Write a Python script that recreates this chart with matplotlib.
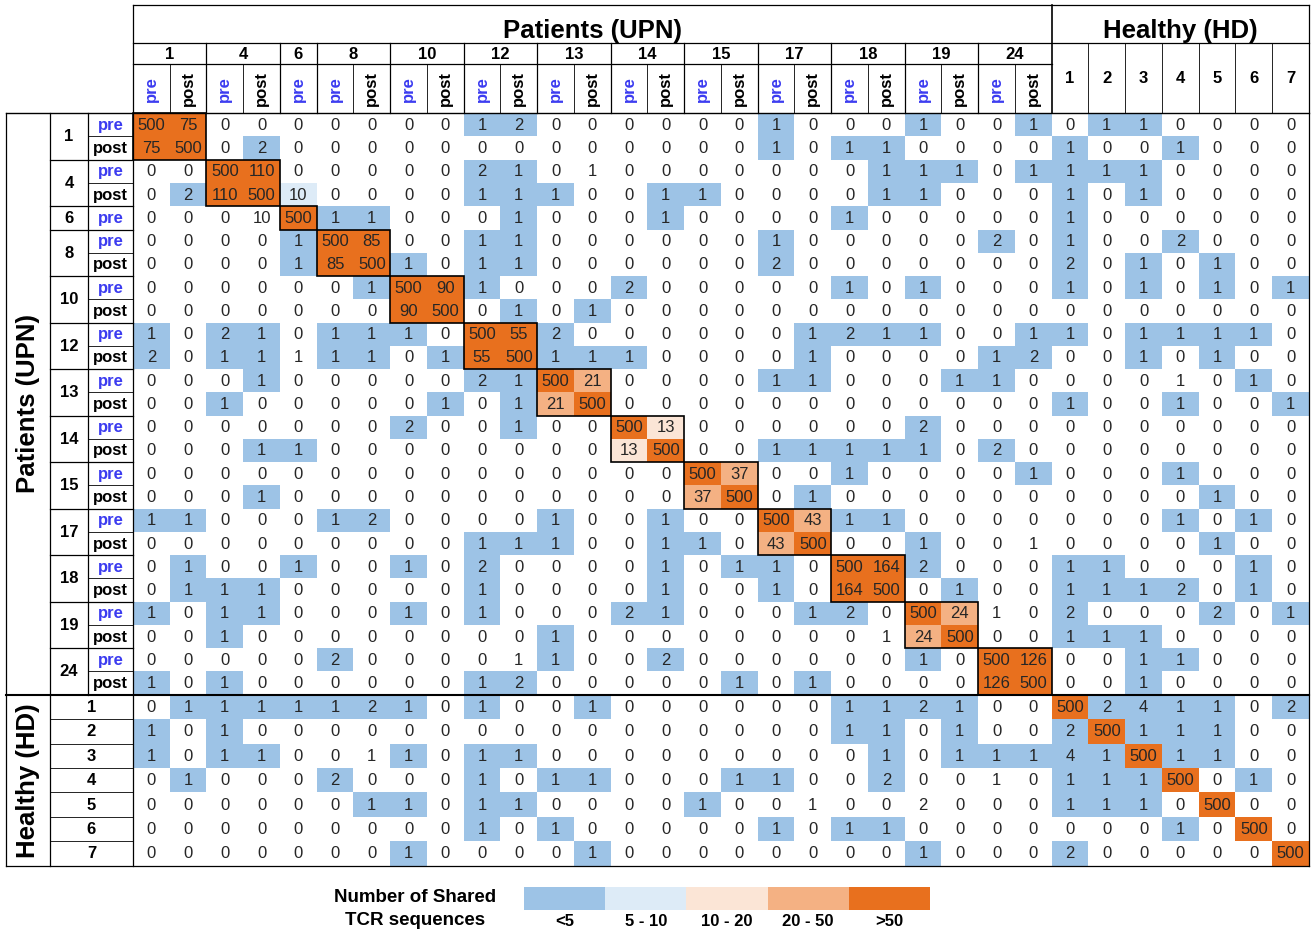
import matplotlib
matplotlib.use("Agg")
import matplotlib.pyplot as plt
from matplotlib.patches import Rectangle

plt.rcParams['font.family'] = ['Liberation Sans', 'DejaVu Sans']

# ---------------- data ----------------
patient_ids = ["1", "4", "6", "8", "10", "12", "13", "14", "15", "17", "18", "19", "24"]
patient_samples = [["pre", "post"], ["pre", "post"], ["pre"], ["pre", "post"], ["pre", "post"],
                   ["pre", "post"], ["pre", "post"], ["pre", "post"], ["pre", "post"],
                   ["pre", "post"], ["pre", "post"], ["pre", "post"], ["pre", "post"]]
healthy_ids = ["1", "2", "3", "4", "5", "6", "7"]

shared = [
    [500, 75, 0, 0, 0, 0, 0, 0, 0, 1, 2, 0, 0, 0, 0, 0, 0, 1, 0, 0, 0, 1, 0, 0, 1, 0, 1, 1, 0, 0, 0, 0],
    [75, 500, 0, 2, 0, 0, 0, 0, 0, 0, 0, 0, 0, 0, 0, 0, 0, 1, 0, 1, 1, 0, 0, 0, 0, 1, 0, 0, 1, 0, 0, 0],
    [0, 0, 500, 110, 0, 0, 0, 0, 0, 2, 1, 0, 1, 0, 0, 0, 0, 0, 0, 0, 1, 1, 1, 0, 1, 1, 1, 1, 0, 0, 0, 0],
    [0, 2, 110, 500, 10, 0, 0, 0, 0, 1, 1, 1, 0, 0, 1, 1, 0, 0, 0, 0, 1, 1, 0, 0, 0, 1, 0, 1, 0, 0, 0, 0],
    [0, 0, 0, 10, 500, 1, 1, 0, 0, 0, 1, 0, 0, 0, 1, 0, 0, 0, 0, 1, 0, 0, 0, 0, 0, 1, 0, 0, 0, 0, 0, 0],
    [0, 0, 0, 0, 1, 500, 85, 0, 0, 1, 1, 0, 0, 0, 0, 0, 0, 1, 0, 0, 0, 0, 0, 2, 0, 1, 0, 0, 2, 0, 0, 0],
    [0, 0, 0, 0, 1, 85, 500, 1, 0, 1, 1, 0, 0, 0, 0, 0, 0, 2, 0, 0, 0, 0, 0, 0, 0, 2, 0, 1, 0, 1, 0, 0],
    [0, 0, 0, 0, 0, 0, 1, 500, 90, 1, 0, 0, 0, 2, 0, 0, 0, 0, 0, 1, 0, 1, 0, 0, 0, 1, 0, 1, 0, 1, 0, 1],
    [0, 0, 0, 0, 0, 0, 0, 90, 500, 0, 1, 0, 1, 0, 0, 0, 0, 0, 0, 0, 0, 0, 0, 0, 0, 0, 0, 0, 0, 0, 0, 0],
    [1, 0, 2, 1, 0, 1, 1, 1, 0, 500, 55, 2, 0, 0, 0, 0, 0, 0, 1, 2, 1, 1, 0, 0, 1, 1, 0, 1, 1, 1, 1, 0],
    [2, 0, 1, 1, 1, 1, 1, 0, 1, 55, 500, 1, 1, 1, 0, 0, 0, 0, 1, 0, 0, 0, 0, 1, 2, 0, 0, 1, 0, 1, 0, 0],
    [0, 0, 0, 1, 0, 0, 0, 0, 0, 2, 1, 500, 21, 0, 0, 0, 0, 1, 1, 0, 0, 0, 1, 1, 0, 0, 0, 0, 1, 0, 1, 0],
    [0, 0, 1, 0, 0, 0, 0, 0, 1, 0, 1, 21, 500, 0, 0, 0, 0, 0, 0, 0, 0, 0, 0, 0, 0, 1, 0, 0, 1, 0, 0, 1],
    [0, 0, 0, 0, 0, 0, 0, 2, 0, 0, 1, 0, 0, 500, 13, 0, 0, 0, 0, 0, 0, 2, 0, 0, 0, 0, 0, 0, 0, 0, 0, 0],
    [0, 0, 0, 1, 1, 0, 0, 0, 0, 0, 0, 0, 0, 13, 500, 0, 0, 1, 1, 1, 1, 1, 0, 2, 0, 0, 0, 0, 0, 0, 0, 0],
    [0, 0, 0, 0, 0, 0, 0, 0, 0, 0, 0, 0, 0, 0, 0, 500, 37, 0, 0, 1, 0, 0, 0, 0, 1, 0, 0, 0, 1, 0, 0, 0],
    [0, 0, 0, 1, 0, 0, 0, 0, 0, 0, 0, 0, 0, 0, 0, 37, 500, 0, 1, 0, 0, 0, 0, 0, 0, 0, 0, 0, 0, 1, 0, 0],
    [1, 1, 0, 0, 0, 1, 2, 0, 0, 0, 0, 1, 0, 0, 1, 0, 0, 500, 43, 1, 1, 0, 0, 0, 0, 0, 0, 0, 1, 0, 1, 0],
    [0, 0, 0, 0, 0, 0, 0, 0, 0, 1, 1, 1, 0, 0, 1, 1, 0, 43, 500, 0, 0, 1, 0, 0, 1, 0, 0, 0, 0, 1, 0, 0],
    [0, 1, 0, 0, 1, 0, 0, 1, 0, 2, 0, 0, 0, 0, 1, 0, 1, 1, 0, 500, 164, 2, 0, 0, 0, 1, 1, 0, 0, 0, 1, 0],
    [0, 1, 1, 1, 0, 0, 0, 0, 0, 1, 0, 0, 0, 0, 1, 0, 0, 1, 0, 164, 500, 0, 1, 0, 0, 1, 1, 1, 2, 0, 1, 0],
    [1, 0, 1, 1, 0, 0, 0, 1, 0, 1, 0, 0, 0, 2, 1, 0, 0, 0, 1, 2, 0, 500, 24, 1, 0, 2, 0, 0, 0, 2, 0, 1],
    [0, 0, 1, 0, 0, 0, 0, 0, 0, 0, 0, 1, 0, 0, 0, 0, 0, 0, 0, 0, 1, 24, 500, 0, 0, 1, 1, 1, 0, 0, 0, 0],
    [0, 0, 0, 0, 0, 2, 0, 0, 0, 0, 1, 1, 0, 0, 2, 0, 0, 0, 0, 0, 0, 1, 0, 500, 126, 0, 0, 1, 1, 0, 0, 0],
    [1, 0, 1, 0, 0, 0, 0, 0, 0, 1, 2, 0, 0, 0, 0, 0, 1, 0, 1, 0, 0, 0, 0, 126, 500, 0, 0, 1, 0, 0, 0, 0],
    [0, 1, 1, 1, 1, 1, 2, 1, 0, 1, 0, 0, 1, 0, 0, 0, 0, 0, 0, 1, 1, 2, 1, 0, 0, 500, 2, 4, 1, 1, 0, 2],
    [1, 0, 1, 0, 0, 0, 0, 0, 0, 0, 0, 0, 0, 0, 0, 0, 0, 0, 0, 1, 1, 0, 1, 0, 0, 2, 500, 1, 1, 1, 0, 0],
    [1, 0, 1, 1, 0, 0, 1, 1, 0, 1, 1, 0, 0, 0, 0, 0, 0, 0, 0, 0, 1, 0, 1, 1, 1, 4, 1, 500, 1, 1, 0, 0],
    [0, 1, 0, 0, 0, 2, 0, 0, 0, 1, 0, 1, 1, 0, 0, 0, 1, 1, 0, 0, 2, 0, 0, 1, 0, 1, 1, 1, 500, 0, 1, 0],
    [0, 0, 0, 0, 0, 0, 1, 1, 0, 1, 1, 0, 0, 0, 0, 1, 0, 0, 1, 0, 0, 2, 0, 0, 0, 1, 1, 1, 0, 500, 0, 0],
    [0, 0, 0, 0, 0, 0, 0, 0, 0, 1, 0, 1, 0, 0, 0, 0, 0, 1, 0, 1, 1, 0, 0, 0, 0, 0, 0, 0, 1, 0, 500, 0],
    [0, 0, 0, 0, 0, 0, 0, 1, 0, 0, 0, 0, 1, 0, 0, 0, 0, 0, 0, 0, 0, 1, 0, 0, 0, 2, 0, 0, 0, 0, 0, 500],
]
# cells that carry a value but were left unshaded in the original table
unshaded = [(2, 12), (4, 3), (10, 4), (11, 28), (18, 24), (21, 23), (22, 20),
            (23, 10), (27, 6), (28, 23), (29, 18), (29, 21)]

legend_labels = ["<5", "5 - 10", "10 - 20", "20 - 50", ">50"]
legend_colors = ["#9DC3E6", "#DDEBF7", "#FBE5D6", "#F4B183", "#E8701E"]
bin_edges = [5, 10, 20, 50]

# ---------------- layout ----------------
W, H = 1315, 936
X0, CW = 133.0, 36.75
Y0, RHP, RHH = 113.2, 23.26, 24.43
NP = sum(len(s) for s in patient_samples)
NH = len(healthy_ids)
N = NP + NH
XL0, XL1, XL2 = 6.0, 50.0, 88.0
YT0, YT1, YT2 = 5.0, 43.0, 64.0
PRE_BLUE = "#3B3BF0"


def rtop(i):
    return Y0 + i * RHP if i <= NP else Y0 + NP * RHP + (i - NP) * RHH


def cx(j):
    return X0 + j * CW


def color_for(v):
    if v <= 0:
        return "white"
    if v < bin_edges[0]:
        return legend_colors[0]
    if v <= bin_edges[1]:
        return legend_colors[1]
    if v <= bin_edges[2]:
        return legend_colors[2]
    if v <= bin_edges[3]:
        return legend_colors[3]
    return legend_colors[4]


fig = plt.figure(figsize=(W / 100, H / 100), dpi=100)
ax = fig.add_axes([0, 0, 1, 1])
ax.set_xlim(0, W)
ax.set_ylim(H, 0)
ax.axis("off")

unshaded_set = set(unshaded)
YB = rtop(N)
XR = cx(N)

# cells
for i in range(N):
    y = rtop(i)
    h = rtop(i + 1) - y
    for j in range(N):
        v = shared[i][j]
        fc = "white" if (i, j) in unshaded_set else color_for(v)
        if fc != "white":
            ax.add_patch(Rectangle((cx(j), y), CW, h, facecolor=fc, edgecolor="none", zorder=1))
        ax.text(cx(j) + CW / 2, y + h / 2 + 0.5, str(v), ha="center", va="center",
                fontsize=12, color="#262626", zorder=3)


def hline(y, x0, x1, lw=0.9):
    ax.plot([x0, x1], [y, y], color="black", lw=lw, zorder=4, solid_capstyle="projecting")


def vline(x, y0, y1, lw=0.9):
    ax.plot([x, x], [y0, y1], color="black", lw=lw, zorder=4, solid_capstyle="projecting")


# diagonal boxes for patient blocks
k = 0
col_groups = []
for pid, samples in zip(patient_ids, patient_samples):
    n = len(samples)
    col_groups.append((k, n))
    y0 = rtop(k)
    y1 = rtop(k + n)
    ax.add_patch(Rectangle((cx(k), y0), n * CW, y1 - y0, facecolor="none",
                           edgecolor="black", lw=1.2, zorder=5))
    k += n

# ---- header ----
hline(YT0, X0, XR)
hline(YT1, X0, XR)
hline(YT2, X0, cx(NP))
hline(Y0, XL0, XR, lw=1.0)
vline(X0, YT0, YB)
vline(XR, YT0, YB)
vline(cx(NP), YT0, Y0, lw=1.2)
ax.text((X0 + cx(NP)) / 2, (YT0 + YT1) / 2 + 7, "Patients (UPN)", ha="center", va="center",
        fontsize=18.5, fontweight="bold")
ax.text((cx(NP) + XR) / 2, (YT0 + YT1) / 2 + 7, "Healthy (HD)", ha="center", va="center",
        fontsize=18.5, fontweight="bold")
for (start, n), pid, samples in zip(col_groups, patient_ids, patient_samples):
    ax.text(cx(start) + n * CW / 2, (YT1 + YT2) / 2 + 1, pid, ha="center", va="center",
            fontsize=12, fontweight="bold")
    if start > 0:
        vline(cx(start), YT1, Y0)
    for s_i, s in enumerate(samples):
        j = start + s_i
        if s_i > 0:
            vline(cx(j), YT2, Y0, lw=0.6)
        ax.text(cx(j) + CW / 2, (YT2 + Y0) / 2, s, ha="center", va="center", rotation=90,
                fontsize=12, fontweight="bold", color=PRE_BLUE if s == "pre" else "black")
for h_i, hid in enumerate(healthy_ids):
    j = NP + h_i
    if h_i > 0:
        vline(cx(j), YT1, Y0, lw=0.6)
    ax.text(cx(j) + CW / 2, (YT1 + Y0) / 2, hid, ha="center", va="center",
            fontsize=12, fontweight="bold")

# ---- left labels ----
vline(XL0, Y0, YB)
vline(XL1, Y0, YB)
vline(XL2, Y0, rtop(NP))
hline(YB, XL0, XR)
hline(rtop(NP), XL0, XR, lw=1.5)
ax.text((XL0 + XL1) / 2, (Y0 + rtop(NP)) / 2, "Patients (UPN)", ha="center", va="center",
        rotation=90, fontsize=18.5, fontweight="bold")
ax.text((XL0 + XL1) / 2, (rtop(NP) + YB) / 2, "Healthy (HD)", ha="center", va="center",
        rotation=90, fontsize=18.5, fontweight="bold")
for (start, n), pid, samples in zip(col_groups, patient_ids, patient_samples):
    y0 = rtop(start)
    y1 = rtop(start + n)
    if start > 0:
        hline(y0, XL1, X0)
    ax.text((XL1 + XL2) / 2, (y0 + y1) / 2 + 0.5, pid, ha="center", va="center",
            fontsize=12, fontweight="bold")
    for s_i, s in enumerate(samples):
        i = start + s_i
        if s_i > 0:
            hline(rtop(i), XL2, X0, lw=0.6)
        ax.text((XL2 + X0) / 2, (rtop(i) + rtop(i + 1)) / 2 + 0.5, s, ha="center", va="center",
                fontsize=12, fontweight="bold", color=PRE_BLUE if s == "pre" else "black")
for h_i, hid in enumerate(healthy_ids):
    i = NP + h_i
    if h_i > 0:
        hline(rtop(i), XL1, X0, lw=0.6)
    ax.text((XL1 + X0) / 2, (rtop(i) + rtop(i + 1)) / 2 + 0.5, hid, ha="center", va="center",
            fontsize=12, fontweight="bold")

# ---- legend ----
LX0, LW, LY0, LH = 524.0, 81.2, 887.0, 23.0
for li, (lab, col) in enumerate(zip(legend_labels, legend_colors)):
    ax.add_patch(Rectangle((LX0 + li * LW, LY0), LW, LH, facecolor=col, edgecolor="none"))
    ax.text(LX0 + li * LW + LW / 2, LY0 + LH + 11, lab, ha="center", va="center",
            fontsize=12, fontweight="bold")
ax.text(415, 909, "Number of Shared\nTCR sequences", ha="center", va="center",
        fontsize=13.5, fontweight="bold", linespacing=1.45)

fig.savefig("out.png", dpi=100)
